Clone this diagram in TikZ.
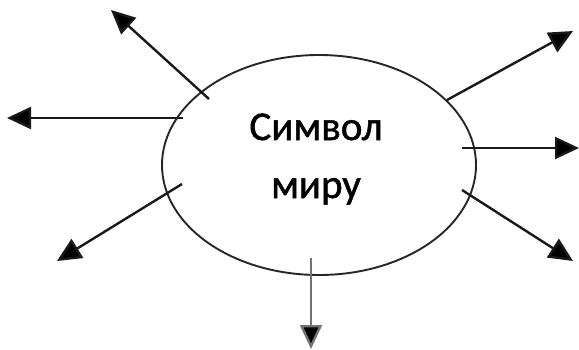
\documentclass[tikz,border=0pt]{standalone}
\usepackage{fontspec}
\setmainfont{Carlito}
\newfontfamily\heavyfont[FakeBold=1.2]{Carlito}
\usetikzlibrary{arrows.meta,shapes.geometric}
\begin{document}
\begin{tikzpicture}[x=1pt,y=-1pt,
  ray/.style={line width=2.4pt,black!90,-{Triangle[length=24pt,width=22pt,fill=black]}},
  oval/.style={draw,black!85,line width=1.9pt,ellipse,minimum width=314pt,minimum height=220pt,inner sep=0pt}]
\useasboundingbox (0,0) rectangle (579,349);
\node[oval] (e) at (319,165) {};
\node[font=\heavyfont\fontsize{41}{58}\selectfont,align=center,text=black] (t) at (316,159) {Символ\\миру};
\coordinate (s1) at (209,99);   \coordinate (e1) at (111,10);
\coordinate (s2) at (183,118);  \coordinate (e2) at (7,118);
\coordinate (s3) at (182,184);  \coordinate (e3) at (57,261);
\coordinate (s4) at (311,258);  \coordinate (e4) at (311,349);
\coordinate (s5) at (462,190);  \coordinate (e5) at (573,261);
\coordinate (s6) at (462,148);  \coordinate (e6) at (579,148);
\coordinate (s7) at (447,100);  \coordinate (e7) at (573,31);
\draw[ray] (s1) -- (e1);
\draw[ray] (s2) -- (e2);
\draw[ray] (s3) -- (e3);
\draw[ray,draw=black!55] (s4) -- (e4);
\draw[ray] (s5) -- (e5);
\draw[ray] (s6) -- (e6);
\draw[ray] (s7) -- (e7);
\end{tikzpicture}
\end{document}
